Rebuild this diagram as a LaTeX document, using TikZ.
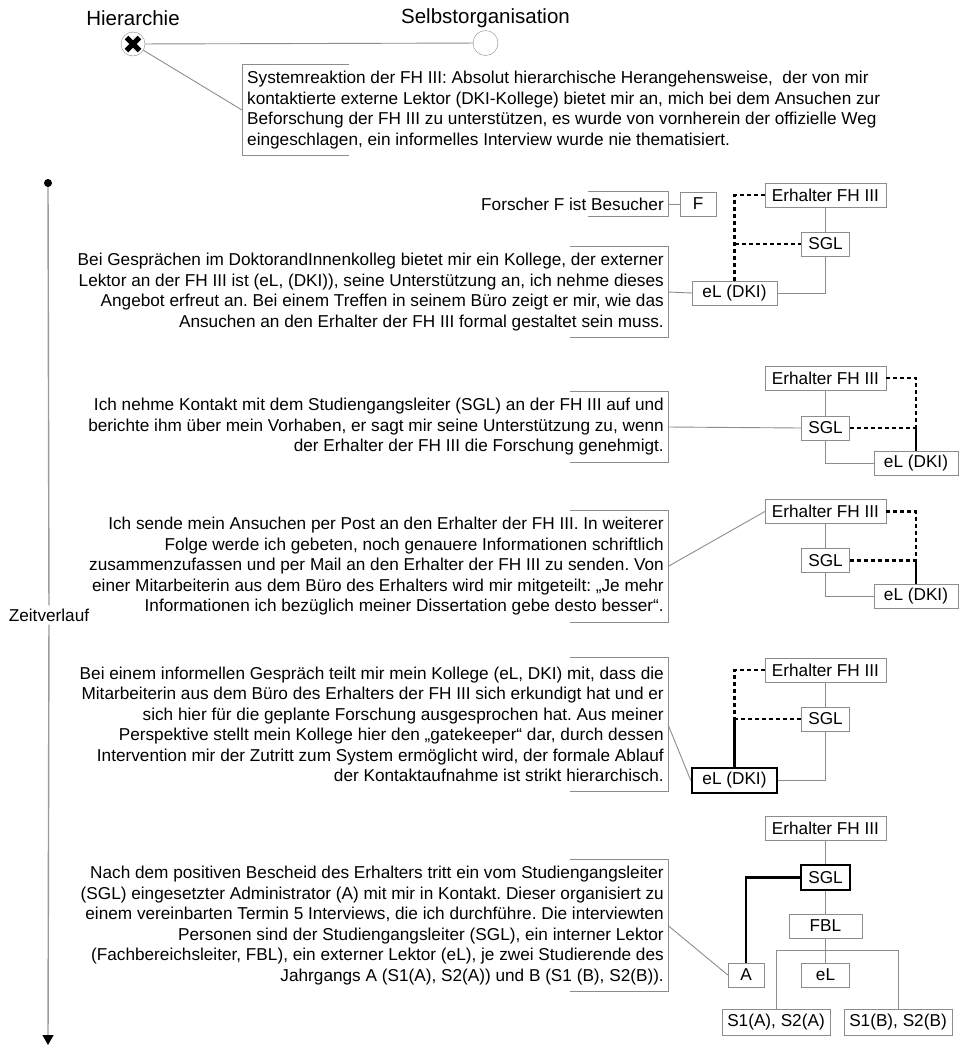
\documentclass[tikz,border=0pt]{standalone}
\usepackage{fontspec}
\setmainfont{Liberation Sans}
\frenchspacing
\usetikzlibrary{arrows.meta}

\begin{document}
\begin{tikzpicture}[x=1pt, y=-1pt,
    every node/.style={font=\fontsize{17.2}{20.5}\selectfont},
    orgbox/.style={draw=black!45, fill=white, minimum height=24pt, inner sep=2pt},
    keybox/.style={draw=black, line width=2.4pt, fill=white, minimum height=25pt, inner sep=2pt},
    txtbox/.style={anchor=east, align=right, inner xsep=4pt, inner ysep=0pt},
    gline/.style={draw=black!45, line width=0.9pt},
    dline/.style={draw=black, line width=2.2pt, dash pattern=on 4pt off 3pt},
    bline/.style={draw=black, line width=2.4pt}]
    \useasboundingbox (0,0) rectangle (961,1045);

    % Scale Hierarchie - Selbstorganisation
    \node[font=\fontsize{20.5}{24}\selectfont] (hlab) at (133,18) {Hierarchie};
    \node[font=\fontsize{20.5}{24}\selectfont] (slab) at (485.5,18) {Selbstorganisation};
    \node[circle, draw=black!45, fill=white, minimum size=24pt, inner sep=0pt] (hx) at (133,44) {};
    \node[circle, draw=black!45, fill=white, minimum size=25pt, inner sep=0pt] (so) at (485.5,43) {};
    \draw[gline] (hx) -- (so);
    \draw[line width=5pt] ([shift={(-6.5,-6.5)}]hx.center) -- ([shift={(6.5,6.5)}]hx.center);
    \draw[line width=5pt] ([shift={(-6.5,6.5)}]hx.center) -- ([shift={(6.5,-6.5)}]hx.center);
    \node[anchor=west, align=left, inner xsep=5pt, minimum height=91pt] (sys) at (242,110)
        {Systemreaktion der FH III: Absolut hierarchische Herangehensweise, \ der von mir\\
         kontaktierte externe Lektor (DKI-Kollege) bietet mir an, mich bei dem Ansuchen zur\\
         Beforschung der FH III zu unterstützen, es wurde von vornherein der offizielle Weg\\
         eingeschlagen, ein informelles Interview wurde nie thematisiert.};
    \draw[gline] ([xshift=107pt]sys.north west) -| (sys.south west) -- ++(107pt,0);
    \draw[gline] (hx) -- (sys.west);

    % Timeline
    \node[circle, fill=black, inner sep=0pt, minimum size=8pt] (tstart) at (48,183) {};
    \node[fill=white, inner sep=3pt] (zv) at (49,615) {Zeitverlauf};
    \coordinate (tend) at (48,1045);
    \draw[draw=black!40, line width=1.4pt] (tstart) -- (zv);
    \draw[draw=black!40, line width=1.4pt, -{Triangle[color=black, width=11pt, length=10pt]}] (zv) -- (tend);

    % Step 1
    \node[txtbox, minimum height=24pt] (t1) at (668,204) {Forscher F ist Besucher};
    \node[orgbox, minimum width=36pt] (f1) at (698,204) {F};
    \draw[gline] ([xshift=-80pt]t1.north east) -| (t1.south east) -- ++(-80pt,0);
    \draw[gline] (t1.east) -- (f1.west);

    % Step 2
    \node[txtbox, minimum height=90pt] (t2) at (668,292)
        {Bei Gesprächen im DoktorandInnenkolleg bietet mir ein Kollege, der externer\\
         Lektor an der FH III ist (eL, (DKI)), seine Unterstützung an, ich nehme dieses\\
         Angebot erfreut an. Bei einem Treffen in seinem Büro zeigt er mir, wie das\\
         Ansuchen an den Erhalter der FH III formal gestaltet sein muss.};
    \draw[gline] ([xshift=-98pt]t2.north east) -| (t2.south east) -- ++(-98pt,0);
    \node[orgbox, minimum width=121pt] (erh2) at (825.5,195) {Erhalter FH III};
    \node[orgbox, minimum width=48pt] (sgl2) at (825.5,244) {SGL};
    \node[orgbox, minimum width=85pt] (el2) at (734.5,293) {eL (DKI)};
    \coordinate (k2) at (el2.north |- sgl2.west);
    \draw[gline] (erh2) -- (sgl2);
    \draw[gline] (sgl2.south) |- (el2.east);
    \draw[gline] (t2.east) -- (el2.west);
    \draw[dline] (el2.north) |- (erh2.west);
    \draw[dline] (k2) -- (sgl2.west);

    % Step 3
    \node[txtbox, minimum height=71pt] (t3) at (668,427)
        {Ich nehme Kontakt mit dem Studiengangsleiter (SGL) an der FH III auf und\\
         berichte ihm über mein Vorhaben, er sagt mir seine Unterstützung zu, wenn\\
         der Erhalter der FH III die Forschung genehmigt.};
    \draw[gline] ([xshift=-98pt]t3.north east) -| (t3.south east) -- ++(-98pt,0);
    \node[orgbox, minimum width=121pt] (erh3) at (825.5,378) {Erhalter FH III};
    \node[orgbox, minimum width=48pt] (sgl3) at (825.5,428) {SGL};
    \node[orgbox, minimum width=84pt] (el3) at (916,463) {eL (DKI)};
    \coordinate (k3) at (el3.north |- sgl3.east);
    \draw[gline] (erh3) -- (sgl3);
    \draw[gline] (sgl3.south) |- (el3.west);
    \draw[gline] (t3.east) -- (sgl3.west);
    \draw[dline] (erh3.east) -| (k3);
    \draw[dline] (sgl3.east) -- (k3);
    \draw[bline] (k3) -- (el3.north);

    % Step 4
    \node[txtbox, minimum height=111pt] (t4) at (668,566.5)
        {Ich sende mein Ansuchen per Post an den Erhalter der FH III. In weiterer\\
         Folge werde ich gebeten, noch genauere Informationen schriftlich\\
         zusammenzufassen und per Mail an den Erhalter der FH III zu senden. Von\\
         einer Mitarbeiterin aus dem Büro des Erhalters wird mir mitgeteilt: „Je mehr\\
         Informationen ich bezüglich meiner Dissertation gebe desto besser“.};
    \draw[gline] ([xshift=-98pt]t4.north east) -| (t4.south east) -- ++(-98pt,0);
    \node[orgbox, minimum width=121pt] (erh4) at (825.5,511.5) {Erhalter FH III};
    \node[orgbox, minimum width=48pt] (sgl4) at (825.5,560.5) {SGL};
    \node[orgbox, minimum width=84pt] (el4) at (916,596.5) {eL (DKI)};
    \coordinate (k4) at (el4.north |- sgl4.east);
    \draw[gline] (erh4) -- (sgl4);
    \draw[gline] (sgl4.south) |- (el4.west);
    \draw[gline] (t4.east) -- (erh4.west);
    \draw[dline] (erh4.east) -| (k4);
    \draw[dline] (sgl4.east) -- (k4);
    \draw[bline] (k4) -- (el4.north);

    % Step 5
    \node[txtbox, minimum height=133pt] (t5) at (668,724.5)
        {Bei einem informellen Gespräch teilt mir mein Kollege (eL, DKI) mit, dass die\\
         Mitarbeiterin aus dem Büro des Erhalters der FH III sich erkundigt hat und er\\
         sich hier für die geplante Forschung ausgesprochen hat. Aus meiner\\
         Perspektive stellt mein Kollege hier den „gatekeeper“ dar, durch dessen\\
         Intervention mir der Zutritt zum System ermöglicht wird, der formale Ablauf\\
         der Kontaktaufnahme ist strikt hierarchisch.};
    \draw[gline] ([xshift=-98pt]t5.north east) -| (t5.south east) -- ++(-98pt,0);
    \node[orgbox, minimum width=121pt] (erh5) at (825.5,670) {Erhalter FH III};
    \node[orgbox, minimum width=48pt] (sgl5) at (825.5,719) {SGL};
    \node[keybox, minimum width=85pt] (el5) at (734.5,780.5) {eL (DKI)};
    \coordinate (k5) at (el5.north |- sgl5.west);
    \draw[gline] (erh5) -- (sgl5);
    \draw[gline] (sgl5.south) |- (el5.east);
    \draw[gline] (t5.east) -- (el5.west);
    \draw[dline] (erh5.west) -| (k5);
    \draw[dline] (sgl5.west) -- (k5);
    \draw[bline] (k5) -- (el5.north);

    % Step 6
    \node[txtbox, minimum height=131pt] (t6) at (668,925.5)
        {Nach dem positiven Bescheid des Erhalters tritt ein vom Studiengangsleiter\\
         (SGL) eingesetzter Administrator (A) mit mir in Kontakt. Dieser organisiert zu\\
         einem vereinbarten Termin 5 Interviews, die ich durchführe. Die interviewten\\
         Personen sind der Studiengangsleiter (SGL), ein interner Lektor\\
         (Fachbereichsleiter, FBL), ein externer Lektor (eL), je zwei Studierende des\\
         Jahrgangs A (S1(A), S2(A)) und B (S1 (B), S2(B)).};
    \draw[gline] ([xshift=-98pt]t6.north east) -| (t6.south east) -- ++(-98pt,0);
    \node[orgbox, minimum width=121pt] (erh6) at (825.5,828.5) {Erhalter FH III};
    \node[keybox, minimum width=49pt] (sgl6) at (825.5,877.5) {SGL};
    \node[orgbox, minimum width=73pt] (fbl6) at (825.5,926) {FBL};
    \node[orgbox, minimum width=36pt] (a6) at (746,975) {A};
    \node[orgbox, minimum width=48pt] (el6) at (825.5,975) {eL};
    \node[orgbox, minimum width=108pt, minimum height=26pt] (sa6) at (776,1022) {S1(A), S2(A)};
    \node[orgbox, minimum width=108pt, minimum height=26pt] (sb6) at (898,1022) {S1(B), S2(B)};
    \coordinate (br6) at (825.5,950);
    \draw[gline] (erh6) -- (sgl6);
    \draw[gline] (sgl6) -- (fbl6);
    \draw[gline] (fbl6) -- (el6);
    \draw[gline] (sa6.north) |- (br6) -| (sb6.north);
    \draw[gline] (t6.east) -- (a6.west);
    \draw[bline] (sgl6.west) -| (a6.north);
\end{tikzpicture}
\end{document}
